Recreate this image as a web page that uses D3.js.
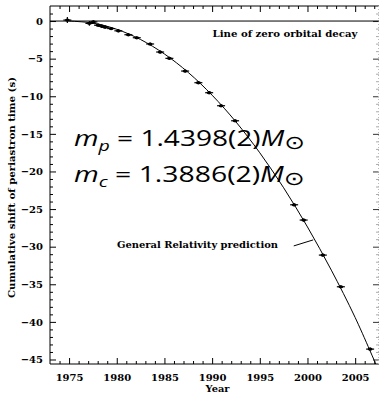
<!DOCTYPE html>
<html>
<head>
<meta charset="utf-8">
<script src="https://cdn.jsdelivr.net/npm/d3@7/dist/d3.min.js"></script>
<style>
  body { margin: 0; background: #fff; }
  svg { display: block; }
</style>
</head>
<body>
<svg id="chart" width="381" height="393"></svg>
<script>
// Measured cumulative shift of periastron time (PSR B1913+16)
const obsYear  = [1974.82, 1977.13, 1977.55, 1978.04, 1978.43, 1978.78, 1979.41, 1980.17,
                  1981.22, 1982.10, 1983.50, 1984.55, 1985.52, 1987.17, 1988.56, 1989.69,
                  1990.94, 1992.41, 1998.60, 1999.60, 2001.61, 2003.50, 2006.57];
const obsShift = [0.13, -0.31, -0.12, -0.55, -0.68, -0.82, -1.00, -1.30,
                  -1.82, -2.22, -3.05, -4.12, -4.96, -6.65, -8.20, -9.53,
                  -11.26, -13.26, -24.43, -26.46, -31.12, -35.33, -43.62];
const obsErr   = [0.40, 0.30, 0.15, 0.12, 0.12, 0.12, 0.12, 0.12,
                  0.12, 0.12, 0.12, 0.12, 0.12, 0.12, 0.12, 0.12,
                  0.12, 0.12, 0.15, 0.15, 0.15, 0.15, 0.15];

// General Relativity prediction
const grYear  = [1975, 1977.5, 1980, 1982.5, 1985, 1987.5, 1990, 1992.5, 1995, 1997.5,
                 2000, 2002.5, 2005, 2007.5];
const grShift = [0, -0.27, -1.10, -2.46, -4.38, -6.84, -9.86, -13.41, -17.52, -22.17,
                 -27.38, -33.12, -39.42, -46.6];

// Axis ticks
const xMajor = [1975, 1980, 1985, 1990, 1995, 2000, 2005];
const xMinor = d3.range(1974, 2008).filter(v => v % 5 !== 0);
const yMajor = [0, -5, -10, -15, -20, -25, -30, -35, -40, -45];
const yMinor = d3.range(-45, 2).filter(v => v % 5 !== 0);

const xTitle = "Year";
const yTitle = "Cumulative shift of periastron time (s)";
const zeroLabel = "Line of zero orbital decay";
const grLabel = "General Relativity prediction";

const W = 381, H = 393;
const m = { left: 50, right: 2, top: 6, bottom: 29 };
const svg = d3.select("#chart");

const x = d3.scaleLinear().domain([1973, 2007.5]).range([m.left, W - m.right]);
const y = d3.scaleLinear().domain([2, -45.6]).range([m.top, H - m.bottom]);

const x0 = x.range()[0], x1 = x.range()[1];
const y0 = y.range()[0], y1 = y.range()[1];

const serif = "'DejaVu Serif', serif";
const minus = v => (v < 0 ? "\u2212" + Math.abs(v) : String(v));

svg.append("defs").append("clipPath").attr("id", "plot")
  .append("rect").attr("x", x0).attr("y", y0).attr("width", x1 - x0).attr("height", y1 - y0);

// ---- axes (ticks pointing inward) ----
function styleAxis(g, color) {
  g.select(".domain").remove();
  g.selectAll(".tick line").attr("stroke", color || "#000").attr("stroke-width", 1);
}

// bottom
svg.append("g").attr("transform", `translate(0,${y1})`)
  .call(d3.axisBottom(x).tickValues(xMajor).tickSize(-6).tickPadding(10).tickFormat(d3.format("d")))
  .call(g => styleAxis(g))
  .call(g => g.selectAll("text").attr("font-family", serif).attr("font-weight", "bold")
    .attr("font-size", 10).attr("fill", "#000"));
svg.append("g").attr("transform", `translate(0,${y1})`)
  .call(d3.axisBottom(x).tickValues(xMinor).tickSize(-3).tickFormat(""))
  .call(g => styleAxis(g));

// top
svg.append("g").attr("transform", `translate(0,${y0})`)
  .call(d3.axisTop(x).tickValues(xMajor).tickSize(-6).tickFormat(""))
  .call(g => styleAxis(g));
svg.append("g").attr("transform", `translate(0,${y0})`)
  .call(d3.axisTop(x).tickValues(xMinor).tickSize(-3).tickFormat(""))
  .call(g => styleAxis(g));

// left
svg.append("g").attr("transform", `translate(${x0},0)`)
  .call(d3.axisLeft(y).tickValues(yMajor).tickSize(-6).tickPadding(7).tickFormat(minus))
  .call(g => styleAxis(g))
  .call(g => g.selectAll("text").attr("font-family", serif).attr("font-weight", "bold")
    .attr("font-size", 10).attr("fill", "#000"));
svg.append("g").attr("transform", `translate(${x0},0)`)
  .call(d3.axisLeft(y).tickValues(yMinor).tickSize(-3).tickFormat(""))
  .call(g => styleAxis(g));

// right (lighter)
svg.append("g").attr("transform", `translate(${x1},0)`)
  .call(d3.axisRight(y).tickValues(yMajor).tickSize(-6).tickFormat(""))
  .call(g => styleAxis(g, "#333"));
svg.append("g").attr("transform", `translate(${x1},0)`)
  .call(d3.axisRight(y).tickValues(yMinor).tickSize(-3).tickFormat(""))
  .call(g => styleAxis(g, "#aaa"));

// frame
const frame = svg.append("g").attr("stroke-width", 1).attr("fill", "none");
frame.append("line").attr("x1", x0).attr("x2", x0).attr("y1", y0).attr("y2", y1).attr("stroke", "#000");
frame.append("line").attr("x1", x0).attr("x2", x1).attr("y1", y1).attr("y2", y1).attr("stroke", "#000");
frame.append("line").attr("x1", x0).attr("x2", x1).attr("y1", y0).attr("y2", y0).attr("stroke", "#000");
frame.append("line").attr("x1", x1 - 0.5).attr("x2", x1 - 0.5).attr("y1", y0).attr("y2", y1)
  .attr("stroke", "#bbb").attr("stroke-dasharray", "1,2");

// line of zero orbital decay
svg.append("line").attr("x1", x0).attr("x2", x1).attr("y1", y(0)).attr("y2", y(0))
  .attr("stroke", "#000").attr("stroke-width", 1);

// GR prediction curve
const grData = grYear.map((t, i) => [t, grShift[i]]);
svg.append("path").datum(grData)
  .attr("clip-path", "url(#plot)")
  .attr("fill", "none").attr("stroke", "#000").attr("stroke-width", 1)
  .attr("d", d3.line().x(d => x(d[0])).y(d => y(d[1])).curve(d3.curveCatmullRom));

// observations
const obs = obsYear.map((t, i) => ({ t, v: obsShift[i], e: obsErr[i] }));
const pts = svg.append("g").attr("stroke", "#000").attr("fill", "#000");
pts.selectAll("line.h").data(obs).join("line").attr("class", "h")
  .attr("x1", d => x(d.t) - 4).attr("x2", d => x(d.t) + 4)
  .attr("y1", d => y(d.v)).attr("y2", d => y(d.v)).attr("stroke-width", 1.2);
pts.selectAll("line.v").data(obs).join("line").attr("class", "v")
  .attr("x1", d => x(d.t)).attr("x2", d => x(d.t))
  .attr("y1", d => Math.min(y(d.v) - 1.5, y(d.v + d.e)))
  .attr("y2", d => Math.max(y(d.v) + 1.5, y(d.v - d.e))).attr("stroke-width", 1.2);
pts.selectAll("ellipse").data(obs).join("ellipse")
  .attr("cx", d => x(d.t)).attr("cy", d => y(d.v)).attr("rx", 2.4).attr("ry", 1.6).attr("stroke", "none");

// labels
function fitText(sel, width) {
  sel.attr("textLength", width).attr("lengthAdjust", "spacingAndGlyphs");
}
svg.append("text").attr("x", 212.5).attr("y", 36.5)
  .attr("font-family", serif).attr("font-weight", "bold").attr("font-size", 9.5)
  .text(zeroLabel).call(fitText, 145);

svg.append("text").attr("x", 117).attr("y", 247.5)
  .attr("font-family", serif).attr("font-weight", "bold").attr("font-size", 9.5)
  .text(grLabel).call(fitText, 161);
svg.append("line")
  .attr("x1", x(1998.56)).attr("y1", y(-29.9)).attr("x2", x(2000.6)).attr("y2", y(-29.1))
  .attr("stroke", "#000").attr("stroke-width", 1);

svg.append("text").attr("x", 205.5).attr("y", 392)
  .attr("font-family", serif).attr("font-weight", "bold").attr("font-size", 9.5)
  .text(xTitle).call(fitText, 24);

svg.append("text").attr("transform", "translate(15,298) rotate(-90)")
  .attr("font-family", serif).attr("font-weight", "bold").attr("font-size", 9.5)
  .text(yTitle).call(fitText, 221);

// component masses
const massLines = [
  { sub: "p", value: "1.4398(2)", base: 146 },
  { sub: "c", value: "1.3886(2)", base: 182 }
];
massLines.forEach(ml => {
  const t = svg.append("text").attr("x", 74).attr("y", ml.base)
    .attr("font-family", "'Open Sans', sans-serif").attr("font-size", 21.5).attr("fill", "#000");
  t.append("tspan").attr("font-style", "italic").text("m");
  t.append("tspan").attr("font-style", "italic").attr("font-size", 15).attr("dy", 5).text(ml.sub);
  t.append("tspan").attr("dy", -5).text(" = " + ml.value);
  t.append("tspan").attr("font-style", "italic").text("M");
  t.append("tspan").attr("font-family", "'DejaVu Sans', sans-serif").attr("font-size", 19).attr("dy", 3).text("\u2299");
  const w = t.node().getBBox().width;
  const s = 231 / w;
  t.attr("transform", `translate(74,0) scale(${s},1) translate(-74,0)`);
});
</script>
</body>
</html>
